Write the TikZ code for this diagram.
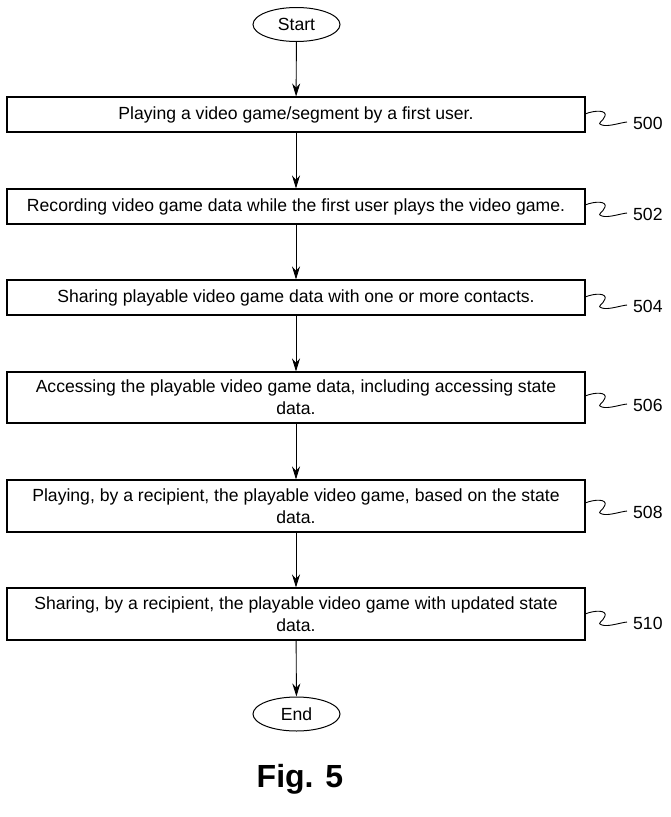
\documentclass[tikz,border=0pt]{standalone}
\usepackage{fontspec}
\setmainfont{Liberation Sans}
\usetikzlibrary{shapes.geometric,arrows.meta}
\begin{document}
\begin{tikzpicture}[x=1pt,y=-1pt,
  stepbox/.style={draw,line width=1.1pt,minimum width=578pt,inner sep=2pt,align=center,font=\fontsize{17.6}{22}\selectfont},
  term/.style={draw,ellipse,line width=1pt,minimum width=87pt,minimum height=34pt,inner sep=0pt,font=\fontsize{17.6}{20}\selectfont},
  flow/.style={-{Stealth[length=13pt,width=8pt]},line width=0.9pt},
  squig/.style={line width=0.9pt},
  reflab/.style={anchor=west,inner sep=0pt,font=\fontsize{17.6}{20}\selectfont}]
\useasboundingbox (0,0) rectangle (670,817);
\node[term] (start) at (296.5,24.5) {Start};
\node[stepbox,minimum height=35pt] (b1) at (296,114.5) {Playing a video game/segment by a first user.};
\node[stepbox,minimum height=35pt] (b2) at (296,206.5) {Recording video game data while the first user plays the video game.};
\node[stepbox,minimum height=35pt] (b3) at (296,297.5) {Sharing playable video game data with one or more contacts.};
\node[stepbox,minimum height=51pt] (b4) at (296,397.5) {Accessing the playable video game data, including accessing state\\data.};
\node[stepbox,minimum height=52pt] (b5) at (296,506) {Playing, by a recipient, the playable video game, based on the state\\data.};
\node[stepbox,minimum height=52pt] (b6) at (296,614) {Sharing, by a recipient, the playable video game with updated state\\data.};
\node[term] (end) at (296.5,714) {End};
\node[font=\fontsize{32}{38}\selectfont\bfseries,anchor=base] (fig) at (300,787) {Fig. 5};
\draw[flow] (start) -- (b1);
\draw[flow] (b1) -- (b2);
\draw[flow] (b2) -- (b3);
\draw[flow] (b3) -- (b4);
\draw[flow] (b4) -- (b5);
\draw[flow] (b5) -- (b6);
\draw[flow] (b6) -- (end);
\foreach \b/\y/\t in {b1/114/500,b2/205/502,b3/297/504,b4/396/506,b5/503/508,b6/614/510}{
  \coordinate (s\t) at (585,\y);
  \draw[squig] (s\t) .. controls +(10,-4) and +(2,-6) .. ++(20,2) .. controls +(-2,6) and +(-6,-2) .. ++(-3,9) .. controls +(6,2) and +(-8,1) .. ++(25,-3);
  \node[reflab] (l\t) at (633,\y+9) {\t};
}
\end{tikzpicture}
\end{document}
